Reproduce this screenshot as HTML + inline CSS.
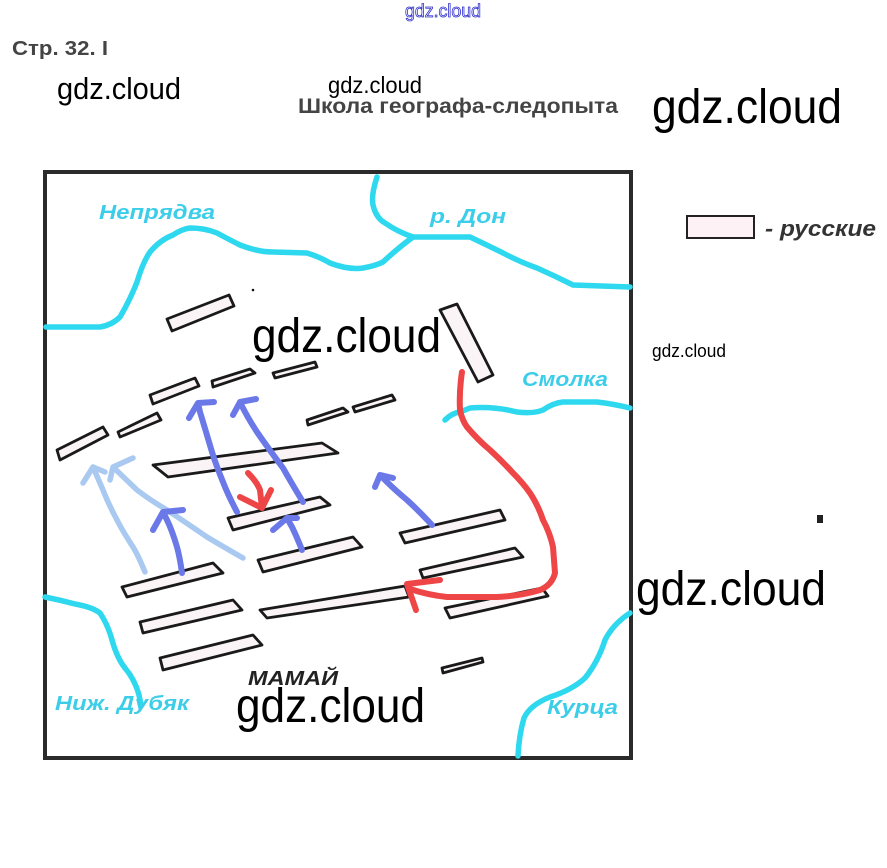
<!DOCTYPE html>
<html><head><meta charset="utf-8"><style>
html,body{margin:0;padding:0;background:#fff;}
svg{display:block;}
.wm{font-family:"Liberation Sans",sans-serif;fill:#000;}
.riv{fill:none;stroke:#2ed8ee;stroke-width:5.5;stroke-linecap:round;stroke-linejoin:round;}
.rl{font-family:"Liberation Sans","DejaVu Sans",sans-serif;font-style:italic;font-weight:bold;fill:#3ccde9;font-size:20px;}
.r{fill:#fbf4f7;stroke:#1a1a1a;stroke-width:2.8;stroke-linejoin:round;}
.b{fill:none;stroke:#6b78e8;stroke-width:6;stroke-linecap:round;stroke-linejoin:round;}
.lb{fill:none;stroke:#a9c9f1;stroke-width:5.5;stroke-linecap:round;stroke-linejoin:round;}
.red{fill:none;stroke:#ee4646;stroke-width:6;stroke-linecap:round;stroke-linejoin:round;}
</style></head><body>
<svg width="887" height="868" viewBox="0 0 887 868" xmlns="http://www.w3.org/2000/svg">
<rect x="0" y="0" width="887" height="868" fill="#fff"/>
<!-- header -->
<text x="443" y="17" text-anchor="middle" font-family="Liberation Sans, sans-serif" font-size="18" fill="none" stroke="#3030cc" stroke-width="0.8" textLength="76" lengthAdjust="spacingAndGlyphs">gdz.cloud</text>
<text x="12" y="55" font-family="Liberation Sans, sans-serif" font-size="20" font-weight="bold" fill="#444" textLength="96" lengthAdjust="spacingAndGlyphs">Стр. 32. I</text>
<text class="wm" x="57" y="99" font-size="31" textLength="124" lengthAdjust="spacingAndGlyphs">gdz.cloud</text>
<text class="wm" x="328" y="93" font-size="23" textLength="94" lengthAdjust="spacingAndGlyphs">gdz.cloud</text>
<text x="298" y="113" font-family="Liberation Sans, sans-serif" font-size="21" font-weight="bold" fill="#444" textLength="320" lengthAdjust="spacingAndGlyphs">Школа географа-следопыта</text>
<text class="wm" x="652" y="123" font-size="48" textLength="190" lengthAdjust="spacingAndGlyphs">gdz.cloud</text>

<!-- frame -->
<rect x="45" y="172" width="586" height="586" fill="#fff" stroke="#2b2b2b" stroke-width="4"/>

<!-- rivers -->
<path class="riv" d="M46,327 L100,327 Q112,325 120,317 Q130,300 137,282 Q143,262 150,252 Q160,240 173,235 Q182,229 190,228 Q205,228 217,233 Q230,240 240,245 Q258,252 273,252 L307,253 Q320,257 330,263 Q348,270 363,268 Q375,266 383,262 Q398,248 413,237"/>
<path class="riv" d="M377,177 Q371,195 373,205 Q376,218 385,223 Q398,232 413,237 L470,237 Q487,245 503,253 Q520,262 537,268 Q555,276 573,285 L630,287"/>
<path class="riv" d="M445,420 Q452,413 460,412 L470,408 Q493,406 517,412 Q533,414 543,410 Q553,403 563,402 L597,402 Q614,404 630,408"/>
<path class="riv" d="M45,597 Q60,600 75,604 Q92,607 100,613 Q108,625 112,640 Q117,658 125,668 Q135,680 139,695 L141,705"/>
<path class="riv" d="M630,613 Q613,624 605,640 Q598,662 585,678 Q572,690 550,697 Q530,705 524,718 Q519,735 518,756"/>

<!-- river labels -->
<text class="rl" x="99" y="219" textLength="116" lengthAdjust="spacingAndGlyphs">Непрядва</text>
<text class="rl" x="430" y="223" textLength="76" lengthAdjust="spacingAndGlyphs">р. Дон</text>
<text class="rl" x="522" y="386" textLength="86" lengthAdjust="spacingAndGlyphs">Смолка</text>
<text class="rl" x="55" y="710" textLength="134" lengthAdjust="spacingAndGlyphs">Ниж. Дубяк</text>
<text class="rl" x="547" y="714" textLength="71" lengthAdjust="spacingAndGlyphs">Курца</text>

<!-- units -->
<polygon class="r" points="167,319 229,295 234,306 172,331"/>
<polygon class="r" points="150,395 195,378 199,386 153,404"/>
<polygon class="r" points="212,381 250,369 255,373 213,387"/>
<polygon class="r" points="273,373 315,362 317,367 275,378"/>
<polygon class="r" points="118,432 157,413 161,420 120,437"/>
<polygon class="r" points="57,450 103,427 108,435 60,460"/>
<polygon class="r" points="153,465 322,443 338,453 168,477"/>
<polygon class="r" points="307,420 343,408 348,412 308,425"/>
<polygon class="r" points="353,407 392,395 395,400 355,412"/>
<polygon class="r" points="228,518 320,497 330,505 233,530"/>
<polygon class="r" points="258,560 353,537 362,547 263,572"/>
<polygon class="r" points="122,587 213,563 223,573 127,597"/>
<polygon class="r" points="140,622 233,600 242,610 143,633"/>
<polygon class="r" points="160,658 253,635 262,645 163,670"/>
<polygon class="r" points="260,610 405,586 409,597 267,618"/>
<polygon class="r" points="400,533 500,510 505,520 405,543"/>
<polygon class="r" points="420,570 515,548 523,557 423,578"/>
<polygon class="r" points="445,608 542,588 548,596 450,618"/>
<polygon class="r" points="442,668 482,658 483,662 443,673"/>
<polygon class="r" points="440,310 457,304 493,375 478,382"/>

<!-- light blue arrows -->
<path class="lb" d="M145,572 Q138,555 133,547 Q122,530 117,520 Q108,503 103,490 L93,467 M83,483 L93,467 L105,472"/>
<path class="lb" d="M243,558 Q222,546 207,537 Q185,522 167,510 Q150,500 137,490 L113,467 M110,480 L113,467 L133,458"/>

<!-- blue arrows -->
<path class="b" d="M237,512 Q228,495 223,482 Q216,465 212,452 Q204,425 200,412 L198,403 M189,418 L198,403 L214,402"/>
<path class="b" d="M303,502 Q292,484 283,468 Q268,448 257,432 Q246,415 240,402 M233,415 L240,402 L256,399"/>
<path class="b" d="M302,550 Q296,535 292,527 L287,518 M273,530 L287,518 L297,518"/>
<path class="b" d="M432,525 Q418,510 407,500 Q395,490 387,482 L380,475 M375,487 L380,475 L393,478"/>
<path class="b" d="M182,573 Q180,558 177,547 Q172,530 167,520 L163,512 M153,530 L163,512 L183,510"/>

<!-- red arrows -->
<path class="red" d="M248,473 Q257,482 260,490 L262,508 M240,497 L262,508 L271,490"/>
<path class="red" d="M462,372 Q459,392 460,410 Q462,420 467,427 Q478,440 490,450 Q503,462 513,473 Q523,483 530,493 Q538,505 543,520 Q550,533 553,547 L555,573 Q552,585 540,590 Q520,596 497,597 L447,597 Q428,595 410,589"/>
<path class="red" stroke-width="7" d="M440,580 L407,584 L416,610"/>

<!-- MAMAI -->
<text x="248" y="685" font-family="Liberation Sans, sans-serif" font-size="20" font-style="italic" font-weight="bold" fill="#222" textLength="90" lengthAdjust="spacingAndGlyphs">МАМАЙ</text>

<!-- legend -->
<rect x="687" y="216" width="67" height="22" fill="#fdf1f6" stroke="#222" stroke-width="2"/>
<text x="765" y="236" font-family="Liberation Sans, sans-serif" font-size="22" font-style="italic" font-weight="bold" fill="#333" textLength="111" lengthAdjust="spacingAndGlyphs">- русские</text>

<!-- dots -->
<circle cx="253" cy="290" r="1.3" fill="#111"/>
<rect x="817" y="515" width="6" height="8" fill="#222"/>

<!-- watermarks -->
<text class="wm" x="252" y="352" font-size="48" textLength="189" lengthAdjust="spacingAndGlyphs">gdz.cloud</text>
<text class="wm" x="652" y="357" font-size="18" textLength="74" lengthAdjust="spacingAndGlyphs">gdz.cloud</text>
<text class="wm" x="636" y="605" font-size="48" textLength="190" lengthAdjust="spacingAndGlyphs">gdz.cloud</text>
<text class="wm" x="236" y="722" font-size="48" textLength="189" lengthAdjust="spacingAndGlyphs">gdz.cloud</text>
</svg>
</body></html>
